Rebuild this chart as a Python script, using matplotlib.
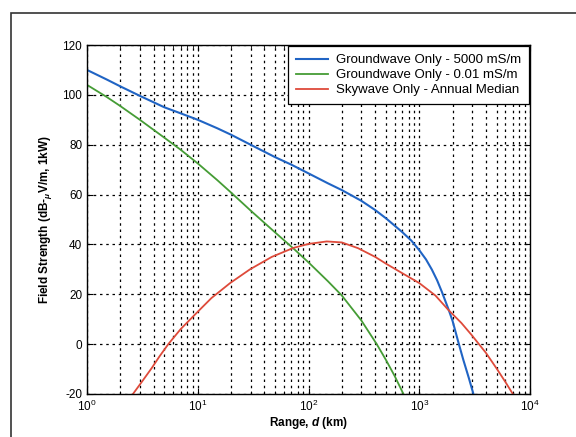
import matplotlib
matplotlib.use("Agg")
import matplotlib.pyplot as plt
from matplotlib.patches import Rectangle
import numpy as np

plt.rcParams['font.family'] = ['Liberation Sans', 'DejaVu Sans']
plt.rcParams['mathtext.fontset'] = 'custom'
plt.rcParams['mathtext.it'] = 'Liberation Sans:italic:bold'
plt.rcParams['mathtext.rm'] = 'Liberation Sans'
plt.rcParams['axes.unicode_minus'] = False

# Groundwave, 5000 mS/m (sea water)
d_blue = [1, 1.5, 2, 3, 5, 7, 10, 15, 20, 30, 50, 70, 100, 150, 200, 300, 400, 500,
          700, 850, 1000, 1150, 1300, 1450, 1600, 1850, 2000, 2270, 2500, 2800, 3085]
fs_blue = [110, 106.2, 103.4, 99.6, 95, 92.6, 90, 86.6, 84, 80, 75, 72, 68.5, 64.5, 61.8,
           57.5, 53.8, 50.5, 45, 41.5, 37.7, 34, 29.9, 25.6, 21, 13.6, 9.3, 0.3,
           -6.3, -13.5, -20]

# Groundwave, 0.01 mS/m (poor ground)
d_green = [1, 1.5, 2, 3, 5, 7, 10, 15, 20, 30, 50, 73, 100, 150, 200, 300, 413, 500, 600, 720]
fs_green = [104, 99.2, 95.5, 90, 82.8, 78, 72.5, 65.8, 60.8, 53.6, 44.8, 38.4, 32.8, 25.2,
            19.5, 9.5, 0, -6.3, -12.8, -20]

# Skywave, annual median
d_red = [2.6, 3.2, 3.84, 4.5, 5.42, 7, 10, 13.3, 19.6, 29.6, 46.6, 73, 100, 146, 200,
         280, 400, 500, 700, 1000, 1400, 1834, 2400, 2980, 4000, 5000, 6000, 7000]
fs_red = [-20, -14.5, -9.6, -5, 0, 6, 13, 18.5, 24.5, 30, 35, 38.6, 40.2, 41.2, 40.8,
          38.5, 35, 32.3, 28.5, 24.5, 19.5, 13.7, 8.5, 3.6, -3.5, -9.8, -15.2, -20]

labels = ['Groundwave Only - 5000 mS/m', 'Groundwave Only - 0.01 mS/m',
          'Skywave Only - Annual Median']
colors = ['#2064c4', '#459c35', '#de4a3a']

fig = plt.figure(figsize=(5.76, 4.37), dpi=100)
ax = fig.add_axes([87/576, 1 - 394/437, 443/576, 349/437])

ax.semilogx(d_blue, fs_blue, color=colors[0], lw=1.5, label=labels[0])
ax.semilogx(d_green, fs_green, color=colors[1], lw=1.3, label=labels[1])
ax.semilogx(d_red, fs_red, color=colors[2], lw=1.3, label=labels[2])

ax.set_xlim(1, 1e4)
ax.set_ylim(-20, 120)
ax.set_yticks(np.arange(-20, 121, 20))
ax.grid(True, which='major', axis='both', color='black', linestyle=(0, (2, 3)), lw=0.9)
ax.grid(True, which='minor', axis='x', color='black', linestyle=(0, (2, 3)), lw=0.9)
ax.tick_params(which='both', direction='in', top=True, right=True, labelsize=8.5)
ax.tick_params(which='major', length=4)
ax.tick_params(which='minor', length=2)
for s in ax.spines.values():
    s.set_linewidth(1.0)

ax.set_xlabel(r'Range, $\it{d}$ (km)', fontsize=8.5, fontweight='bold', labelpad=1)
ax.set_ylabel(r'Field Strength (dB-$_{\mu}$V/m, 1kW)', fontsize=8.5, fontweight='bold', labelpad=6)

leg = ax.legend(loc='upper right', fontsize=9.5, frameon=True, fancybox=False,
                edgecolor='black', framealpha=1, borderpad=0.6, labelspacing=0.2,
                handlelength=2.4, handletextpad=0.6, borderaxespad=0.1)
leg.get_frame().set_linewidth(0.9)

# outer figure frame
fig.patches.append(Rectangle((11/576, -0.1), 1.2, 1 - 13/437 + 0.1,
                             transform=fig.transFigure, fill=False,
                             edgecolor='#333333', lw=1.2))

fig.savefig('out.png', dpi=100)
